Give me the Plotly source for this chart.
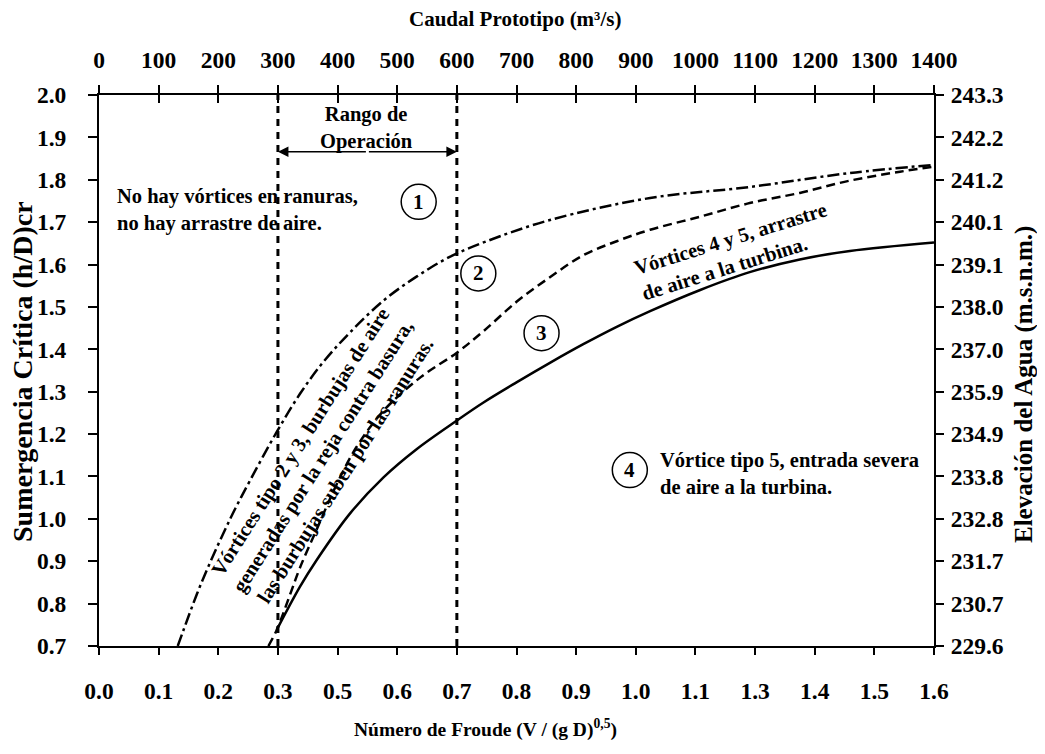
import plotly.graph_objects as go

# ---------------- data ----------------
Q_TICKS = [0, 100, 200, 300, 400, 500, 600, 700, 800, 900, 1000, 1100, 1200, 1300, 1400]
FROUDE_LABELS = ["0.0", "0.1", "0.2", "0.3", "0.5", "0.6", "0.7", "0.8", "0.9", "1.0",
                 "1.1", "1.3", "1.4", "1.5", "1.6"]
Y_TICKS = [0.7, 0.8, 0.9, 1.0, 1.1, 1.2, 1.3, 1.4, 1.5, 1.6, 1.7, 1.8, 1.9, 2.0]
Y_LABELS = ["0.7", "0.8", "0.9", "1.0", "1.1", "1.2", "1.3", "1.4", "1.5", "1.6",
            "1.7", "1.8", "1.9", "2.0"]
ELEV_LABELS = ["229.6", "230.7", "231.7", "232.8", "233.8", "234.9", "235.9", "237.0",
               "238.0", "239.1", "240.1", "241.2", "242.2", "243.3"]

# limit 1-2 (dash-dot)
Q_DASHDOT = [132, 141, 172, 220, 253, 298, 337, 376, 421, 477, 533, 588, 650, 756, 924, 1091, 1259, 1400]
H_DASHDOT = [0.700, 0.735, 0.850, 1.000, 1.090, 1.205, 1.295, 1.370, 1.440, 1.515, 1.572, 1.618,
             1.655, 1.705, 1.757, 1.783, 1.816, 1.835]

# limit 2-3 (dashed)
Q_DASHED = [284, 298, 320, 337, 365, 398, 432, 477, 540, 600, 644, 700, 756, 812, 868, 924,
            1008, 1091, 1175, 1259, 1343, 1400]
H_DASHED = [0.700, 0.738, 0.820, 0.885, 0.975, 1.080, 1.170, 1.255, 1.335, 1.392, 1.442, 1.512,
            1.570, 1.622, 1.655, 1.682, 1.713, 1.745, 1.769, 1.798, 1.819, 1.831]

# limit 3-4 (solid)
Q_SOLID = [298, 337, 365, 421, 477, 533, 600, 644, 700, 756, 812, 868, 924, 1008, 1091, 1175,
           1259, 1400]
H_SOLID = [0.738, 0.840, 0.903, 1.013, 1.098, 1.165, 1.232, 1.274, 1.322, 1.368, 1.412, 1.453,
           1.490, 1.540, 1.582, 1.612, 1.632, 1.652]

OPERATION_RANGE = [300, 600]

FONT = '"Times New Roman", "Liberation Serif", Times, serif'
BLACK = "#000000"

# the page body has an 8 px margin, so the figure is drawn 8 px smaller and
# its margins reduced by 8 px to keep the plot area at page pixels 99..934 x 95..646
W, H = 1037, 746
ML, MT = 91, 87
MR = W - (934 - 8)
MB = H - (646 - 8)

fig = go.Figure()

fig.add_trace(go.Scatter(x=Q_DASHDOT, y=H_DASHDOT, mode="lines", line_shape="spline",
                         line=dict(color=BLACK, width=2.5, dash="12px,4px,3px,4px"),
                         showlegend=False, hoverinfo="skip"))
fig.add_trace(go.Scatter(x=Q_DASHED, y=H_DASHED, mode="lines", line_shape="spline",
                         line=dict(color=BLACK, width=2.5, dash="9px,5px"),
                         showlegend=False, hoverinfo="skip"))
fig.add_trace(go.Scatter(x=Q_SOLID, y=H_SOLID, mode="lines", line_shape="spline",
                         line=dict(color=BLACK, width=2.5),
                         showlegend=False, hoverinfo="skip"))

# dotted operation-range lines
for q in OPERATION_RANGE:
    fig.add_shape(type="line", xref="x", yref="y", x0=q, x1=q, y0=Y_TICKS[0], y1=Y_TICKS[-1],
                  line=dict(color=BLACK, width=3, dash="7px,6px"), layer="above")

tickfont = dict(family=FONT, size=23.5, color=BLACK, weight="bold")

fig.update_layout(
    width=W, height=H,
    margin=dict(l=ML, r=MR, t=MT, b=MB, autoexpand=False),
    paper_bgcolor="white", plot_bgcolor="white",
    showlegend=False,
    font=dict(family=FONT, color=BLACK),
    xaxis=dict(range=[0, 1400], tickvals=Q_TICKS, ticktext=FROUDE_LABELS,
               showgrid=False, zeroline=False, showline=True, linecolor=BLACK, linewidth=2,
               ticks="outside", ticklen=7, tickwidth=1.5, tickcolor=BLACK,
               tickfont=tickfont, ticklabelstandoff=16),
    xaxis2=dict(range=[0, 1400], tickvals=Q_TICKS, ticktext=[str(v) for v in Q_TICKS],
                overlaying="x", side="top", anchor="y",
                showgrid=False, zeroline=False, showline=True, linecolor=BLACK, linewidth=2,
                ticks="outside", ticklen=8, tickwidth=1.5, tickcolor=BLACK,
                tickfont=tickfont, ticklabelstandoff=8),
    xaxis3=dict(range=[0, 1400], tickvals=Q_TICKS, overlaying="x", side="top", anchor="y",
                showgrid=False, zeroline=False, showline=False, showticklabels=False,
                ticks="inside", ticklen=8, tickwidth=1.5, tickcolor=BLACK),
    yaxis=dict(range=[0.7, 2.0], tickvals=Y_TICKS, ticktext=Y_LABELS,
               showgrid=False, zeroline=False, showline=True, linecolor=BLACK, linewidth=2,
               ticks="outside", ticklen=9, tickwidth=1.5, tickcolor=BLACK,
               tickfont=tickfont, ticklabelstandoff=17),
    yaxis2=dict(range=[0.7, 2.0], tickvals=Y_TICKS, ticktext=ELEV_LABELS,
                overlaying="y", side="right", anchor="x",
                showgrid=False, zeroline=False, showline=True, linecolor=BLACK, linewidth=2,
                ticks="outside", ticklen=8, tickwidth=1.5, tickcolor=BLACK,
                tickfont=tickfont, ticklabelstandoff=2),
)

# invisible traces to activate secondary axes
fig.add_trace(go.Scatter(x=[None], y=[None], xaxis="x2", yaxis="y", showlegend=False))
fig.add_trace(go.Scatter(x=[None], y=[None], xaxis="x3", yaxis="y", showlegend=False))
fig.add_trace(go.Scatter(x=[None], y=[None], xaxis="x", yaxis="y2", showlegend=False))

# ---- region circles ----
REGION_LABELS = ["1", "2", "3", "4"]
REGION_Q = [536, 636, 742, 890]
REGION_H = [1.748, 1.579, 1.438, 1.115]
for lab, q, h in zip(REGION_LABELS, REGION_Q, REGION_H):
    fig.add_shape(type="circle", xref="x", yref="y", xsizemode="pixel", ysizemode="pixel",
                  xanchor=q, yanchor=h, x0=-17.5, x1=17.5, y0=-17.5, y1=17.5,
                  line=dict(color=BLACK, width=1.5))
    fig.add_annotation(x=q, y=h, xref="x", yref="y", text=lab, showarrow=False,
                       xanchor="center", yanchor="middle",
                       font=dict(family=FONT, size=21, color=BLACK, weight="bold"))

afont = dict(family=FONT, size=20.5, color=BLACK, weight="bold")

fig.add_annotation(x=27, y=1.729, xref="x", yref="y", xanchor="left", yanchor="middle",
                   align="left",
                   text="No hay vórtices en ranuras,<br>no hay arrastre de aire.",
                   showarrow=False, font=afont)
fig.add_annotation(x=448, y=1.921, xref="x", yref="y", xanchor="center", yanchor="middle",
                   align="center", text="Rango de<br>Operación", showarrow=False, font=afont)
fig.add_annotation(x=376, y=1.148, xref="x", yref="y", xanchor="center", yanchor="middle",
                   align="center", textangle=-57.5,
                   text="Vórtices tipo 2 y 3, burbujas de aire<br>generadas por la reja contra basura,"
                        "<br>las burbujas suben por las ranuras.",
                   showarrow=False, font=afont)
fig.add_annotation(x=1065, y=1.631, xref="x", yref="y", xanchor="center", yanchor="middle",
                   align="left", textangle=-17.3,
                   text="Vórtices 4 y 5, arrastre<br>de aire a la turbina.",
                   showarrow=False, font=afont)
fig.add_annotation(x=937, y=1.106, xref="x", yref="y", xanchor="left", yanchor="middle",
                   align="left",
                   text="Vórtice tipo 5, entrada severa<br>de aire a la turbina.",
                   showarrow=False, font=afont)

# double arrow of operation range
mid = (OPERATION_RANGE[0] + OPERATION_RANGE[1]) / 2
for q in OPERATION_RANGE:
    fig.add_annotation(x=q, y=1.866, ax=mid, ay=1.866, xref="x", yref="y", axref="x", ayref="y",
                       text="", showarrow=True, arrowhead=2, arrowsize=1.4, arrowwidth=1.5,
                       arrowcolor=BLACK, standoff=0)


# axis titles (positions given in page pixels, converted to plot-area fractions)
def px_x(px):
    return (px - 99) / 835


def px_y(py):
    return (646 - py) / 551


fig.add_annotation(x=px_x(515), y=px_y(19), xref="paper", yref="paper",
                   xanchor="center", yanchor="middle",
                   text="Caudal Prototipo (m³/s)", showarrow=False,
                   font=dict(family=FONT, size=21, color=BLACK, weight="bold"))
fig.add_annotation(x=px_x(485), y=px_y(728), xref="paper", yref="paper",
                   xanchor="center", yanchor="middle",
                   text="Número de Froude (V / (g D)<sup>0,5</sup>)", showarrow=False,
                   font=dict(family=FONT, size=19.5, color=BLACK, weight="bold"))
fig.add_annotation(x=px_x(22), y=px_y(372), xref="paper", yref="paper",
                   xanchor="center", yanchor="middle",
                   text="Sumergencia Crítica (h/D)cr", showarrow=False, textangle=-90,
                   font=dict(family=FONT, size=28, color=BLACK, weight="bold"))
fig.add_annotation(x=px_x(1024), y=px_y(385), xref="paper", yref="paper",
                   xanchor="center", yanchor="middle",
                   text="Elevación del Agua (m.s.n.m.)", showarrow=False, textangle=-90,
                   font=dict(family=FONT, size=25, color=BLACK, weight="bold"))

fig.write_html("out.html")
